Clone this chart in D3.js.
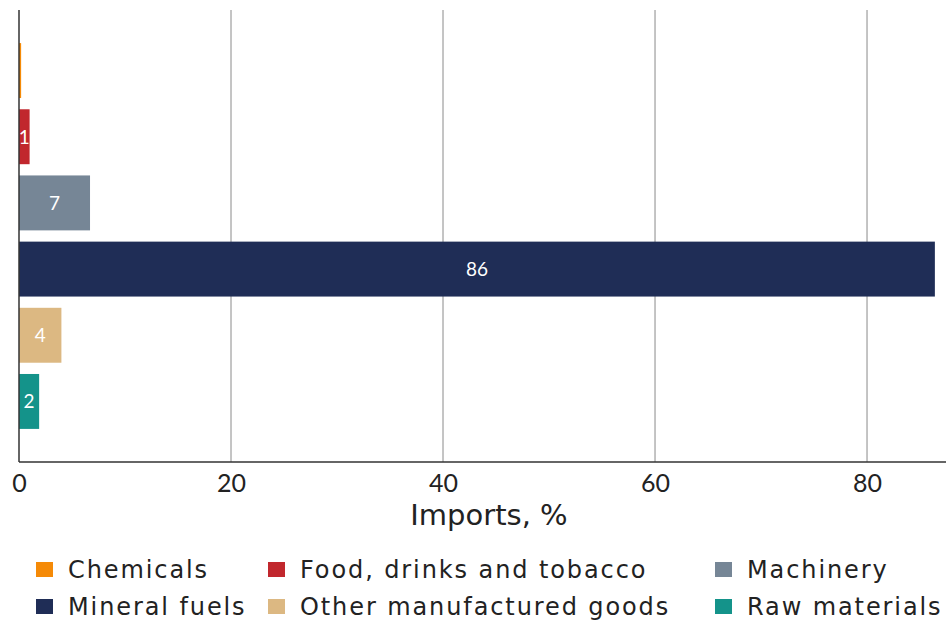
<!DOCTYPE html>
<html lang="en">
<head>
<meta charset="UTF-8">
<title>Imports</title>
<style>
  body { margin: 0; background: #fff; }
  text { font-family: "DejaVu Sans", sans-serif; }
</style>
</head>
<body>
<svg id="chart"></svg>
<script src="https://d3js.org/d3.v7.min.js"></script>
<script>
// data
const categories = ['Chemicals', 'Food, drinks and tobacco', 'Machinery', 'Mineral fuels', 'Other manufactured goods', 'Raw materials'];
const values = [0.2, 1.0, 6.7, 86.4, 4.0, 1.9];
const colors = ['#f58a07', '#c1272d', '#768696', '#1f2d56', '#dcb882', '#14938a'];
const xTicks = [0, 20, 40, 60, 80];

const width = 946, height = 625;
const margin = { top: 10, left: 19, right: 0, bottom: 163 };

const svg = d3.select('#chart').attr('width', width).attr('height', height);

const x = d3.scaleLinear()
  .domain([0, 87.45])
  .range([margin.left, width - margin.right]);

const y = d3.scaleBand()
  .domain(categories)
  .range([margin.top, height - margin.bottom])
  .paddingInner(0.17)
  .paddingOuter(0.5);

const plotBottom = height - margin.bottom;

// grid lines
svg.append('g')
  .selectAll('line')
  .data(xTicks.slice(1))
  .join('line')
  .attr('x1', d => x(d)).attr('x2', d => x(d))
  .attr('y1', margin.top).attr('y2', plotBottom)
  .attr('stroke', '#8a8a8a')
  .attr('stroke-width', 1);

// bars
svg.append('g')
  .selectAll('rect')
  .data(categories)
  .join('rect')
  .attr('x', x(0))
  .attr('y', d => y(d))
  .attr('width', (d, i) => x(values[i]) - x(0))
  .attr('height', y.bandwidth())
  .attr('fill', (d, i) => colors[i]);

// bar labels
svg.append('g')
  .selectAll('text')
  .data(categories.filter((d, i) => Math.round(values[i]) > 0))
  .join('text')
  .attr('x', d => (x(0) + x(values[categories.indexOf(d)])) / 2)
  .attr('y', d => y(d) + y.bandwidth() / 2)
  .attr('dy', '0.36em')
  .attr('text-anchor', 'middle')
  .attr('fill', '#fff')
  .attr('font-size', 19)
  .style('font-family', '"Lato", sans-serif')
  .text(d => Math.round(values[categories.indexOf(d)]));

// axes
const xAxis = d3.axisBottom(x).tickValues(xTicks).tickSize(0).tickPadding(12);
const gx = svg.append('g')
  .attr('transform', `translate(0,${plotBottom})`)
  .call(xAxis);
gx.select('.domain').remove();
gx.selectAll('text').attr('font-size', 25).attr('fill', '#222')
  .style('font-family', '"Lato", sans-serif');

svg.append('line')
  .attr('x1', margin.left).attr('x2', width)
  .attr('y1', plotBottom).attr('y2', plotBottom)
  .attr('stroke', '#333').attr('stroke-width', 1.5);
svg.append('line')
  .attr('x1', margin.left).attr('x2', margin.left)
  .attr('y1', margin.top).attr('y2', plotBottom)
  .attr('stroke', '#333').attr('stroke-width', 1.5);

svg.append('text')
  .attr('x', 489)
  .attr('y', 525)
  .attr('text-anchor', 'middle')
  .attr('font-size', 29)
  .attr('fill', '#222')
  .text('Imports, %');

// legend
const legendX = [36, 268, 715];
const legendY = [570, 607];
const legend = svg.append('g')
  .selectAll('g')
  .data(categories)
  .join('g')
  .attr('transform', (d, i) => `translate(${legendX[i % 3]},${legendY[Math.floor(i / 3)]})`);
legend.append('rect')
  .attr('x', 0).attr('y', -8)
  .attr('width', 17).attr('height', 15)
  .attr('fill', (d, i) => colors[i]);
legend.append('text')
  .attr('x', 32)
  .attr('dy', '0.35em')
  .attr('font-size', 24)
  .attr('letter-spacing', 1.9)
  .attr('fill', '#222')
  .text(d => d);
</script>
</body>
</html>
